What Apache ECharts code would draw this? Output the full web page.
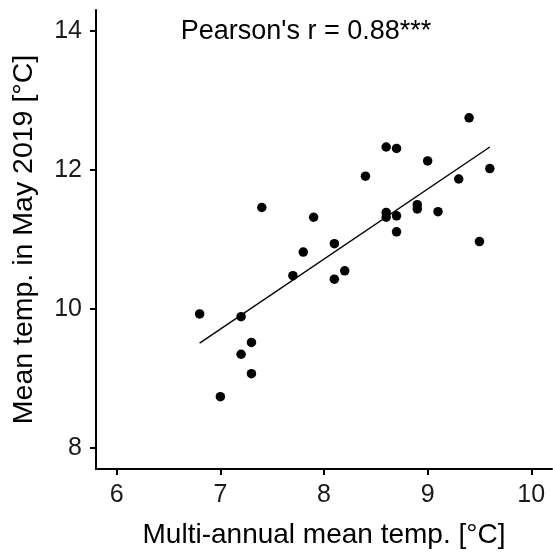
<!DOCTYPE html>
<html><head><meta charset="utf-8">
<script src="https://cdn.jsdelivr.net/npm/echarts@6/dist/echarts.min.js"></script>
<style>html,body{margin:0;padding:0;background:#fff}#c{width:553px;height:555px}</style>
</head><body><div id="c"></div>
<script>
const multiAnnual = [6.8,7.0,7.2,7.2,7.3,7.3,7.4,7.7,7.8,7.9,8.1,8.1,8.2,8.4,8.6,8.6,8.6,8.7,8.7,8.7,8.9,8.9,9.0,9.1,9.3,9.4,9.5,9.6];
const may2019    = [9.93,8.74,9.89,9.35,9.52,9.07,11.46,10.48,10.82,11.32,10.94,10.43,10.55,11.91,12.33,11.39,11.32,12.31,11.34,11.11,11.50,11.44,12.13,11.40,11.87,12.75,10.97,12.02];
const fitX = [6.8, 9.6];
const fitY = [9.51, 12.33];
const xTicks = [6,7,8,9,10];
const yTicks = [8,10,12,14];
const annotation = "Pearson's r = 0.88***";

const pts = multiAnnual.map((x,i)=>[x, may2019[i]]);
const fit = fitX.map((x,i)=>[x, fitY[i]]);
const font = 'Liberation Sans, Arial, sans-serif';
const chart = echarts.init(document.getElementById('c'), null, {renderer:'canvas'});
chart.setOption({
  animation:false,
  grid:{left:96,right:1,top:10,bottom:86,containLabel:false},
  xAxis:{type:'value',min:5.8,max:10.2,
    name:'Multi-annual mean temp. [°C]',nameLocation:'middle',nameGap:52,
    nameTextStyle:{color:'#000',fontSize:28,fontFamily:font},
    axisLine:{show:true,lineStyle:{color:'#000',width:2}},
    axisTick:{show:true,length:6,lineStyle:{color:'#000',width:2},customValues:xTicks},
    axisLabel:{color:'#1a1a1a',fontSize:25,fontFamily:font,margin:14,customValues:xTicks},
    splitLine:{show:false}},
  yAxis:{type:'value',min:7.7,max:14.3,
    name:'Mean temp. in May 2019 [°C]',nameLocation:'middle',nameGap:57,
    nameTextStyle:{color:'#000',fontSize:28.5,fontFamily:font},
    axisLine:{show:true,lineStyle:{color:'#000',width:2}},
    axisTick:{show:true,length:6,lineStyle:{color:'#000',width:2},customValues:yTicks},
    axisLabel:{color:'#1a1a1a',fontSize:25,fontFamily:font,margin:14,customValues:yTicks},
    splitLine:{show:false}},
  graphic:[{type:'text',x:306,y:32,style:{text:annotation,fill:'#000',font:'27px '+font,textAlign:'center',textVerticalAlign:'middle'}}],
  series:[
    {type:'scatter',data:pts,symbolSize:9.5,itemStyle:{color:'#000',opacity:1},z:3},
    {type:'line',data:fit,showSymbol:false,symbol:'none',lineStyle:{color:'#000',width:1.4},z:2}
  ]
});
</script></body></html>
